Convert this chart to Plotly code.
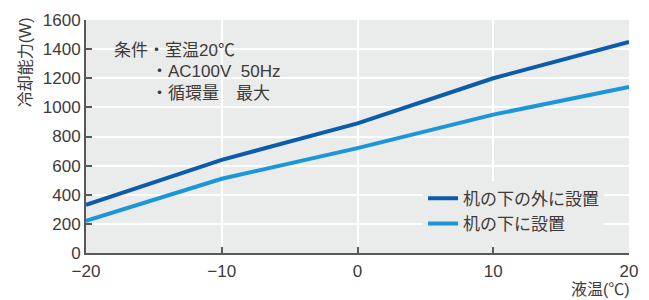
import plotly.graph_objects as go

temps = [-20, -10, 0, 10, 20]
outside = [330, 640, 890, 1200, 1450]
under = [220, 510, 720, 950, 1140]
names = ["机の下の外に設置", "机の下に設置"]
tick_y = list(range(0, 1601, 200))
tick_x = [-20, -10, 0, 10, 20]
colors = ["#0B5CAB", "#1B96D8"]
BG = "#EAEBEB"
FONT = "Liberation Sans, Noto Sans CJK JP, sans-serif"
TXT = "#3E3A39"
AX = "#595757"
L, R, T, B = 86, 12, 11, 47
W, H = 649, 300
PW, PH = W - L - R, H - T - B


def px(x):
    return (x - L) / PW


def py(y):
    return (H - B - y) / PH


fig = go.Figure()
for vals, nm, c in zip([outside, under], names, colors):
    fig.add_trace(go.Scatter(x=temps, y=vals, mode="lines", name=nm,
                             line=dict(color=c, width=4)))

fig.update_layout(
    width=W, height=H,
    margin=dict(l=L, r=R, t=T, b=B),
    paper_bgcolor="white", plot_bgcolor=BG,
    font=dict(family=FONT, size=17, color=TXT),
    showlegend=True,
    legend=dict(x=px(428), y=py(178), xanchor="left", yanchor="top",
                bgcolor=BG, font=dict(size=17, color=TXT),
                itemwidth=30, tracegroupgap=0),
)
axis_common = dict(showgrid=True, gridcolor="white", gridwidth=2,
                   showline=True, linecolor=AX, linewidth=2,
                   ticks="inside", ticklen=6, tickcolor=AX, tickwidth=1.5,
                   zeroline=False, tickfont=dict(size=17, color=TXT))
fig.update_xaxes(range=[-20, 20], tickvals=tick_x, ticklabelstandoff=2, **axis_common)
fig.update_yaxes(range=[0, 1600], tickvals=tick_y, **axis_common)

# Conditions box
fig.add_shape(type="rect", xref="paper", yref="paper",
              x0=px(104), x1=px(300), y0=py(98), y1=py(28),
              fillcolor=BG, line=dict(width=0), layer="between")
notes = [("条件・室温20℃", 112, 43), ("・AC100V  50Hz", 150, 65), ("・循環量　最大", 150, 87)]
for t, xx, yy in notes:
    fig.add_annotation(text=t, xref="paper", yref="paper",
                       x=px(xx), y=py(yy), xanchor="left", yanchor="middle",
                       showarrow=False, font=dict(size=17, color=TXT))

# axis titles
fig.add_annotation(text="冷却能力(W)", xref="paper", yref="paper",
                   x=px(24), y=py(55), textangle=-90,
                   xanchor="center", yanchor="middle", showarrow=False,
                   font=dict(size=16, color=TXT))
fig.add_annotation(text="液温(℃)", xref="paper", yref="paper",
                   x=px(640), y=py(291), xanchor="right", yanchor="middle",
                   showarrow=False, font=dict(size=16, color=TXT))

fig.write_html("out.html", config={"displayModeBar": False},
               post_script="document.body.style.margin='0';document.body.style.overflow='hidden';")
